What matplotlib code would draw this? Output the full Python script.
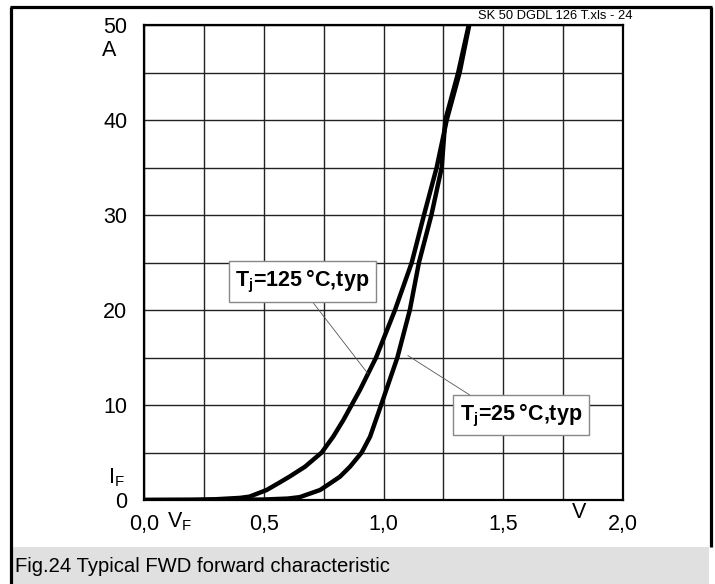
import matplotlib
matplotlib.use("Agg")
import matplotlib.pyplot as plt
from matplotlib.lines import Line2D
from matplotlib.patches import Rectangle

plt.rcParams["font.family"] = ["Liberation Sans", "DejaVu Sans"]
plt.rcParams["mathtext.fontset"] = "custom"
plt.rcParams["mathtext.rm"] = "Liberation Sans"
plt.rcParams["mathtext.it"] = "Liberation Sans"
plt.rcParams["mathtext.bf"] = "Liberation Sans:bold"

# Forward characteristic, Tj = 125 °C (typ)
vf_125 = [0.0, 0.20, 0.30, 0.40, 0.44, 0.512, 0.56, 0.607, 0.672, 0.742, 0.79,
          0.832, 0.867, 0.902, 0.969, 1.048, 1.118, 1.169, 1.222, 1.264, 1.318, 1.358]
if_125 = [0.0, 0.02, 0.08, 0.22, 0.35, 1.05, 1.75, 2.45, 3.5, 5.0, 6.67,
          8.4, 10.0, 11.6, 15.0, 20.0, 25.0, 30.0, 35.0, 40.0, 45.0, 50.0]

# Forward characteristic, Tj = 25 °C (typ)
vf_25 = [0.0, 0.30, 0.50, 0.60, 0.65, 0.735, 0.777, 0.818, 0.86, 0.909, 0.944,
         0.990, 1.058, 1.110, 1.148, 1.200, 1.243, 1.258, 1.312, 1.356]
if_25 = [0.0, 0.01, 0.05, 0.15, 0.30, 1.05, 1.75, 2.45, 3.5, 5.0, 6.67,
         10.0, 15.0, 20.0, 25.0, 30.0, 35.0, 40.0, 45.0, 50.0]

x_ticks = [0.0, 0.5, 1.0, 1.5, 2.0]
x_tick_labels = ["0,0", "0,5", "1,0", "1,5", "2,0"]
y_ticks = [0, 10, 20, 30, 40, 50]
y_tick_labels = ["0", "10", "20", "30", "40", "50"]

W, H = 715, 584
fig = plt.figure(figsize=(W / 100, H / 100), dpi=100)

def fx(px):
    return px / W

def fy(py):
    return 1 - py / H

# outer frame and caption strip
fig.patches.append(Rectangle((fx(13), fy(584)), fx(709) - fx(13), fy(547) - fy(584),
                             transform=fig.transFigure, facecolor="#e0e0e0",
                             edgecolor="none", zorder=0))
for (x0, y0, x1, y1) in [(10, 7, 712, 7), (11.5, 7, 11.5, 584), (710.5, 7, 710.5, 547)]:
    fig.lines.append(Line2D([fx(x0), fx(x1)], [fy(y0), fy(y1)], transform=fig.transFigure,
                            color="black", lw=2.3, solid_capstyle="butt"))

ax = fig.add_axes([fx(144), fy(500), fx(623) - fx(144), fy(25) - fy(500)])
ax.set_xlim(0, 2.0)
ax.set_ylim(0, 50)

ax.set_xticks([i * 0.25 for i in range(9)], minor=True)
ax.set_yticks([i * 5 for i in range(11)], minor=True)
ax.set_xticks(x_ticks)
ax.set_xticklabels(x_tick_labels)
ax.set_yticks(y_ticks)
ax.set_yticklabels(y_tick_labels)
ax.tick_params(which="both", length=0, labelsize=15.5)
ax.tick_params(axis="x", pad=10)
ax.tick_params(axis="y", pad=12)
ax.grid(which="both", color="#222222", lw=1.0)
ax.set_axisbelow(True)
for s in ax.spines.values():
    s.set_linewidth(1.6)
    s.set_color("black")

ax.plot(vf_125, if_125, color="black", lw=3.2, solid_joinstyle="round", zorder=3)
ax.plot(vf_25, if_25, color="black", lw=3.2, solid_joinstyle="round", zorder=3)

# leader lines and curve labels
ax.plot([0.693, 0.935], [21.2, 13.3], color="#555555", lw=0.6, zorder=4)
ax.plot([1.102, 1.382], [15.2, 10.7], color="#555555", lw=0.6, zorder=4)
box = dict(boxstyle="square,pad=0.3", facecolor="white", edgecolor="#888888", lw=1.0)
ax.text(0.662, 23.0, "T$_\\mathbf{j}$=125\u2009°C,typ", fontsize=15.5, fontweight="bold",
        ha="center", va="center", bbox=box, zorder=5)
ax.text(1.574, 8.95, "T$_\\mathbf{j}$=25\u2009°C,typ", fontsize=15.5, fontweight="bold",
        ha="center", va="center", bbox=box, zorder=5)

# axis annotations
fig.text(fx(102), fy(50), "A", fontsize=15.5, ha="left", va="center")
fig.text(fx(108), fy(478), r"I$_\mathrm{F}$", fontsize=15.5, ha="left", va="center")
fig.text(fx(167), fy(522), r"V$_\mathrm{F}$", fontsize=15.5, ha="left", va="center")
fig.text(fx(579), fy(512), "V", fontsize=15.5, ha="center", va="center")
fig.text(fx(633), fy(16), "SK 50 DGDL 126 T.xls - 24", fontsize=9.3, ha="right", va="center")
fig.text(fx(15), fy(566), "Fig.24 Typical FWD forward characteristic", fontsize=14.6,
         ha="left", va="center")

fig.savefig("out.png", dpi=100)
